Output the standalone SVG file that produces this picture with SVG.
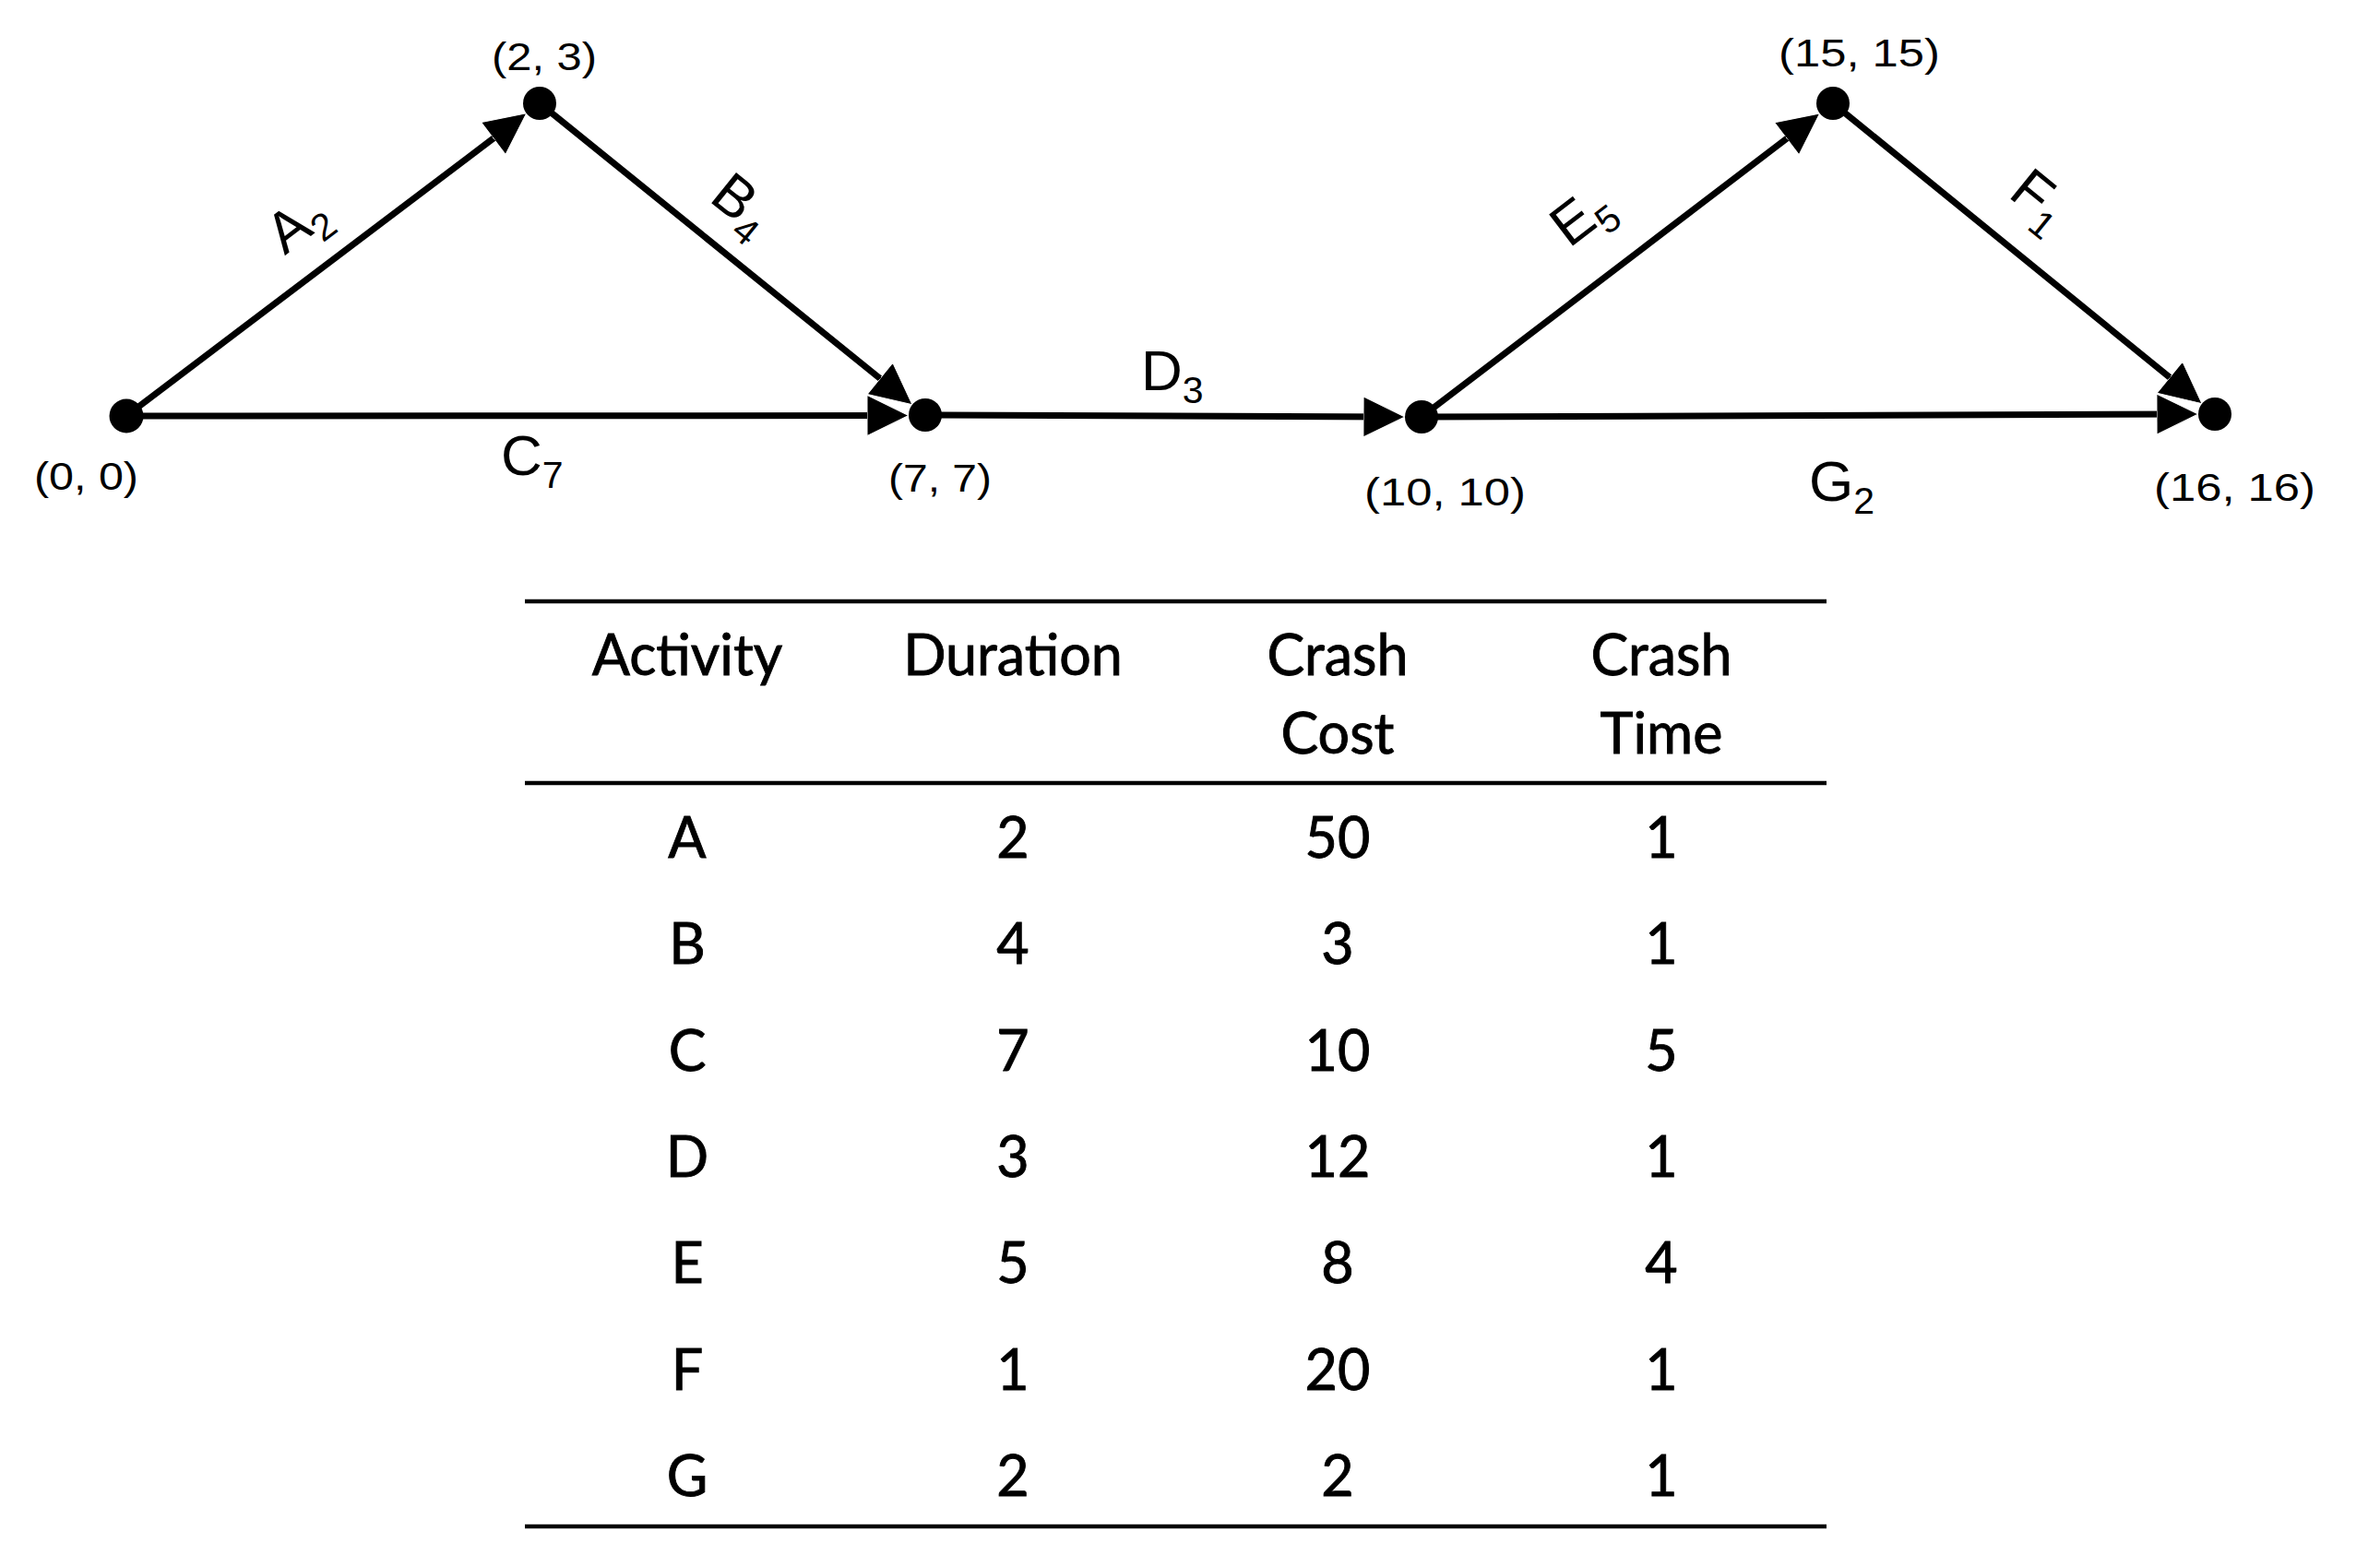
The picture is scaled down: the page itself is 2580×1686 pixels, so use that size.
<svg xmlns="http://www.w3.org/2000/svg" width="2580" height="1686" viewBox="0 0 2580 1686">
<style>
.edge{stroke:#000;stroke-width:7;fill:none}
.node{fill:#000}
.nl{font-family:"Liberation Sans",Arial,sans-serif;font-size:42px;fill:#000}
.el{font-family:"Liberation Sans",Arial,sans-serif;font-size:62px;fill:#000}
.sub{font-size:41px}
.tb{font-family:Lato,"Open Sans",sans-serif;font-size:61px;fill:#000;stroke:#000;stroke-width:0.9;text-anchor:middle}
.rule{stroke:#000;stroke-width:4.5}
</style>
<defs>
<marker id="ah" markerUnits="userSpaceOnUse" markerWidth="46" markerHeight="46" refX="35" refY="22" orient="auto" viewBox="0 0 46 46">
<path d="M0,0 L45,22 L0,44 z" fill="#000" stroke="#fff" stroke-width="1"/>
</marker>
</defs>
<rect width="2580" height="1686" fill="#fff"/>
<g id="connectors">
<line class="edge" x1="137" y1="451" x2="975" y2="450.5" marker-end="url(#ah)"/>
<line class="edge" x1="137" y1="451" x2="562.7" y2="128.9" marker-end="url(#ah)"/>
<line class="edge" x1="585" y1="112" x2="981.2" y2="432.4" marker-end="url(#ah)"/>
<line class="edge" x1="1003" y1="450" x2="1513" y2="452" marker-end="url(#ah)"/>
<line class="edge" x1="1541" y1="452" x2="2373" y2="449" marker-end="url(#ah)"/>
<line class="edge" x1="1541" y1="452" x2="1964.7" y2="129" marker-end="url(#ah)"/>
<line class="edge" x1="1987" y1="112" x2="2379.2" y2="431.3" marker-end="url(#ah)"/>
<g transform="translate(355.4,285.8) rotate(-37.1)"><text class="el" x="0" y="-35" text-anchor="middle">A<tspan class="sub" dy="14">2</tspan></text></g>
<g transform="translate(771.6,262.9) rotate(38.9)"><text class="el" x="0" y="-33" text-anchor="middle">B<tspan class="sub" dy="14">4</tspan></text></g>
<text class="el" x="543" y="515">C<tspan class="sub" dy="14">7</tspan></text>
<text class="el" x="1237" y="423">D<tspan class="sub" dy="14">3</tspan></text>
<g transform="translate(1755.7,288.3) rotate(-37.3)"><text class="el" x="0" y="-48" text-anchor="middle">E<tspan class="sub" dy="14">5</tspan></text></g>
<g transform="translate(2173.1,263.5) rotate(39.1)"><text class="el" x="0" y="-41" text-anchor="middle">F<tspan class="sub" dy="14">1</tspan></text></g>
<text class="el" x="1961" y="543">G<tspan class="sub" dy="14">2</tspan></text>
</g>
<g id="n0"><circle class="node" cx="137" cy="451" r="18.5"/><text class="nl" x="37" y="531" textLength="113" lengthAdjust="spacingAndGlyphs">(0, 0)</text></g>
<g id="n1"><circle class="node" cx="585" cy="112" r="18"/><text class="nl" x="533" y="76" textLength="114" lengthAdjust="spacingAndGlyphs">(2, 3)</text></g>
<g id="n2"><circle class="node" cx="1003" cy="450" r="18"/><text class="nl" x="963" y="533" textLength="112" lengthAdjust="spacingAndGlyphs">(7, 7)</text></g>
<g id="n3"><circle class="node" cx="1541" cy="452" r="18"/><text class="nl" x="1479" y="548" textLength="175" lengthAdjust="spacingAndGlyphs">(10, 10)</text></g>
<g id="n4"><circle class="node" cx="1987" cy="112" r="18"/><text class="nl" x="1928" y="72" textLength="175" lengthAdjust="spacingAndGlyphs">(15, 15)</text></g>
<g id="n5"><circle class="node" cx="2401" cy="449" r="18"/><text class="nl" x="2335" y="543" textLength="175" lengthAdjust="spacingAndGlyphs">(16, 16)</text></g>
<g id="table">
<line class="rule" x1="569" y1="652" x2="1980" y2="652"/>
<line class="rule" x1="569" y1="849" x2="1980" y2="849"/>
<line class="rule" x1="569" y1="1655" x2="1980" y2="1655"/>
<text class="tb" x="745" y="732">Activity</text>
<text class="tb" x="1098" y="732">Duration</text>
<text class="tb" x="1450" y="732">Crash</text>
<text class="tb" x="1450" y="817">Cost</text>
<text class="tb" x="1801" y="732">Crash</text>
<text class="tb" x="1801" y="817">Time</text>
<text class="tb" x="745" y="930">A</text><text class="tb" x="1098" y="930">2</text><text class="tb" x="1450" y="930">50</text><text class="tb" x="1801" y="930">1</text>
<text class="tb" x="745" y="1045">B</text><text class="tb" x="1098" y="1045">4</text><text class="tb" x="1450" y="1045">3</text><text class="tb" x="1801" y="1045">1</text>
<text class="tb" x="745" y="1161">C</text><text class="tb" x="1098" y="1161">7</text><text class="tb" x="1450" y="1161">10</text><text class="tb" x="1801" y="1161">5</text>
<text class="tb" x="745" y="1276">D</text><text class="tb" x="1098" y="1276">3</text><text class="tb" x="1450" y="1276">12</text><text class="tb" x="1801" y="1276">1</text>
<text class="tb" x="745" y="1391">E</text><text class="tb" x="1098" y="1391">5</text><text class="tb" x="1450" y="1391">8</text><text class="tb" x="1801" y="1391">4</text>
<text class="tb" x="745" y="1507">F</text><text class="tb" x="1098" y="1507">1</text><text class="tb" x="1450" y="1507">20</text><text class="tb" x="1801" y="1507">1</text>
<text class="tb" x="745" y="1622">G</text><text class="tb" x="1098" y="1622">2</text><text class="tb" x="1450" y="1622">2</text><text class="tb" x="1801" y="1622">1</text>
</g>
</svg>
